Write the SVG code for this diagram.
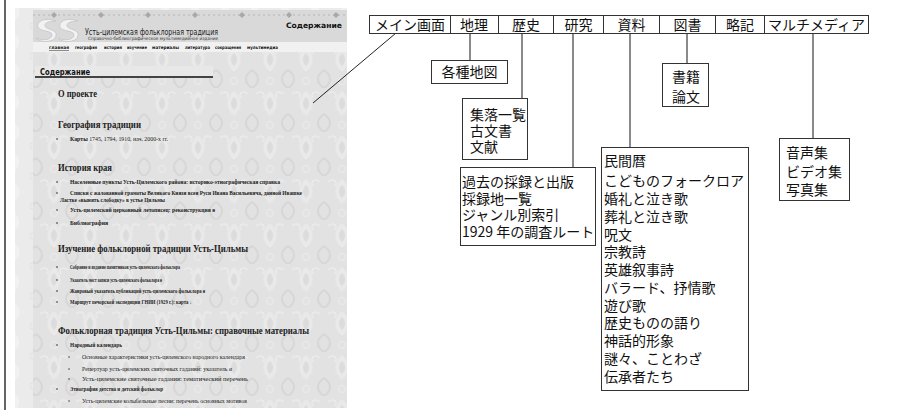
<svg xmlns="http://www.w3.org/2000/svg" width="897" height="419" viewBox="0 0 897 419">
<style>
.jp{font-family:"Noto Sans CJK JP","Noto Sans",sans-serif;font-size:14px;fill:#111}
.box{fill:#fff;stroke:#333;stroke-width:1}
.con{stroke:#8a8a8a;stroke-width:2;fill:none}
.ru{font-family:"Liberation Serif",serif;fill:#1a1a1a}
.h{font-size:10px;font-weight:bold}
.it{font-size:5.5px;font-weight:bold}
.sub{font-size:5.5px;font-weight:normal}
.nv{font-family:"DejaVu Sans",sans-serif;font-size:4.5px;font-weight:bold;fill:#111}
.dot{fill:#222}
</style>
<defs>
<pattern id="damask" width="36" height="44" patternUnits="userSpaceOnUse">
<rect width="36" height="44" fill="#e2e2e2"/>
<path d="M18 3 C27 11 27 20 18 28 C9 20 9 11 18 3Z" fill="#e9e9e9"/>
<path d="M18 9 C22 13 22 18 18 22 C14 18 14 13 18 9Z" fill="#dcdcdc"/>
<path d="M0 26 C8 31 8 39 0 44 M36 26 C28 31 28 39 36 44" stroke="#d7d7d7" fill="none" stroke-width="2"/>
<path d="M4 6 C9 2 14 5 11 10 M32 6 C27 2 22 5 25 10" stroke="#eaeaea" fill="none" stroke-width="2"/>
<circle cx="18" cy="37" r="3.5" fill="none" stroke="#e9e9e9" stroke-width="1.5"/>
</pattern>
<pattern id="damask2" width="30" height="30" patternUnits="userSpaceOnUse">
<rect width="30" height="30" fill="#ebebeb"/>
<path d="M15 3 C21 9 21 15 15 21 C9 15 9 9 15 3Z" fill="#f1f1f1"/>
<circle cx="3" cy="26" r="3" fill="none" stroke="#e2e2e2" stroke-width="1.2"/>
</pattern>
</defs>
<rect width="897" height="419" fill="#fff"/>

<!-- website screenshot -->
<g id="screenshot">
<line x1="5" y1="0" x2="5" y2="410" stroke="#333" stroke-width="1.5"/>
<rect x="15" y="8" width="332" height="400" fill="url(#damask2)"/>
<rect x="33" y="52" width="314" height="356" fill="url(#damask)"/>
<rect x="33" y="10" width="314" height="32" fill="#d9d9d9"/>
<rect x="33" y="42" width="314" height="10" fill="#f1f1f1"/>
<line x1="33" y1="15" x2="347" y2="15" stroke="#b5b5b5" stroke-width="1" stroke-dasharray="2 3"/>
<g fill="#a8a8a8">
<path d="M54 12l3 3-3 3-3-3z"/><path d="M101 12l3 3-3 3-3-3z"/><path d="M148 12l3 3-3 3-3-3z"/><path d="M195 12l3 3-3 3-3-3z"/><path d="M242 12l3 3-3 3-3-3z"/><path d="M289 12l3 3-3 3-3-3z"/><path d="M336 12l3 3-3 3-3-3z"/>
</g>
<g fill="#f2f2f2" stroke="#c4c4c4" stroke-width="0.8">
<path d="M56 21 C46 17 36 21 38 27 C40 32 52 30 52 35 C52 40 42 41 36 38 C40 43 54 43 56 36 C58 29 46 30 45 26 C44 22 52 21 56 21Z"/>
<path d="M78 21 C68 17 58 21 60 27 C62 32 74 30 74 35 C74 40 64 41 58 38 C62 43 76 43 78 36 C80 29 68 30 67 26 C66 22 74 21 78 21Z"/>
</g>
<text x="85" y="35" font-family="DejaVu Sans,sans-serif" font-size="8" fill="#222" textLength="133" lengthAdjust="spacingAndGlyphs">Усть-цилемская фольклорная традиция</text>
<text x="88" y="39.5" font-family="DejaVu Sans,sans-serif" font-size="4.5" fill="#333" textLength="130" lengthAdjust="spacingAndGlyphs">Справочно-библиографическое мультимедийное издание</text>
<text x="286" y="28" font-family="DejaVu Sans,sans-serif" font-size="7.5" font-weight="bold" fill="#111" textLength="56" lengthAdjust="spacingAndGlyphs">Содержание</text>
<text class="nv" x="49" y="49" textLength="20" lengthAdjust="spacingAndGlyphs" text-decoration="underline">главная</text>
<text class="nv" x="75" y="49" textLength="22" lengthAdjust="spacingAndGlyphs">география</text>
<text class="nv" x="104" y="49" textLength="18" lengthAdjust="spacingAndGlyphs">история</text>
<text class="nv" x="127" y="49" textLength="20" lengthAdjust="spacingAndGlyphs">изучение</text>
<text class="nv" x="152" y="49" textLength="27" lengthAdjust="spacingAndGlyphs">материалы</text>
<text class="nv" x="185" y="49" textLength="25" lengthAdjust="spacingAndGlyphs">литература</text>
<text class="nv" x="215" y="49" textLength="26" lengthAdjust="spacingAndGlyphs">сокращения</text>
<text class="nv" x="247" y="49" textLength="31" lengthAdjust="spacingAndGlyphs">мультимедиа</text>

<rect x="35" y="66" width="178" height="10" fill="#e8e8e8"/>
<line x1="35" y1="77" x2="213" y2="77" stroke="#444" stroke-width="2"/>
<text x="40" y="75" font-family="DejaVu Sans,sans-serif" font-size="8" font-weight="bold" fill="#111" textLength="50" lengthAdjust="spacingAndGlyphs">Содержание</text>

<text class="ru h" x="58" y="97" textLength="39" lengthAdjust="spacingAndGlyphs">О проекте</text>
<text class="ru h" x="58" y="128" textLength="83" lengthAdjust="spacingAndGlyphs">География традиции</text>
<circle class="dot" cx="57" cy="139" r="0.8"/>
<text class="ru it" x="70" y="141" textLength="98" lengthAdjust="spacingAndGlyphs">Карты <tspan font-weight="normal">1745, 1794, 1910, нач. 2000-х гг.</tspan></text>

<text class="ru h" x="58" y="171" textLength="54" lengthAdjust="spacingAndGlyphs">История края</text>
<circle class="dot" cx="57" cy="182" r="0.8"/>
<text class="ru it" x="70" y="184" textLength="210" lengthAdjust="spacingAndGlyphs">Населенные пункты Усть-Цилемского района: историко-этнографическая справка</text>
<circle class="dot" cx="57" cy="193" r="0.8"/>
<text class="ru it" x="70" y="195" textLength="232" lengthAdjust="spacingAndGlyphs">Списки с жалованной грамоты Великого Князя всея Руси Ивана Васильевича, данной Ивашке</text>
<text class="ru it" x="60" y="202" textLength="105" lengthAdjust="spacingAndGlyphs">Ластке «вынять слободку» в устье Цильмы</text>
<circle class="dot" cx="57" cy="210" r="0.8"/>
<text class="ru it" x="70" y="212" textLength="145" lengthAdjust="spacingAndGlyphs">Усть-цилемский церковный летописец: реконструкция ø</text>
<circle class="dot" cx="57" cy="223" r="0.8"/>
<text class="ru it" x="70" y="225" textLength="38" lengthAdjust="spacingAndGlyphs">Библиография</text>

<text class="ru h" x="58" y="252" font-size="10.5" textLength="190" lengthAdjust="spacingAndGlyphs">Изучение фольклорной традиции Усть-Цильмы</text>
<circle class="dot" cx="57" cy="267" r="0.8"/>
<text class="ru it" x="70" y="269" textLength="110" lengthAdjust="spacingAndGlyphs">Собрание и издание памятников усть-цилемского фольклора</text>
<circle class="dot" cx="57" cy="280" r="0.8"/>
<text class="ru it" x="70" y="282" textLength="92" lengthAdjust="spacingAndGlyphs">Указатель мест записи усть-цилемского фольклора ø</text>
<circle class="dot" cx="57" cy="291" r="0.8"/>
<text class="ru it" x="70" y="293" textLength="135" lengthAdjust="spacingAndGlyphs">Жанровый указатель публикаций усть-цилемского фольклора ø</text>
<circle class="dot" cx="57" cy="302" r="0.8"/>
<text class="ru it" x="70" y="304" textLength="122" lengthAdjust="spacingAndGlyphs">Маршрут печорской экспедиции ГНИИ (1929 г.): карта ↓</text>

<text class="ru h" x="58" y="334" font-size="10.5" textLength="251" lengthAdjust="spacingAndGlyphs">Фольклорная традиция Усть-Цильмы: справочные материалы</text>
<circle class="dot" cx="57" cy="345" r="0.8"/>
<text class="ru it" x="70" y="347" textLength="52" lengthAdjust="spacingAndGlyphs">Народный календарь</text>
<circle class="dot" cx="69" cy="357" r="0.7"/>
<text class="ru sub" x="82" y="359" textLength="163" lengthAdjust="spacingAndGlyphs">Основные характеристики усть-цилемского народного календаря</text>
<circle class="dot" cx="69" cy="369" r="0.7"/>
<text class="ru sub" x="82" y="371" textLength="150" lengthAdjust="spacingAndGlyphs">Репертуар усть-цилемских святочных гаданий: указатель ø</text>
<circle class="dot" cx="69" cy="379" r="0.7"/>
<text class="ru sub" x="82" y="381" textLength="166" lengthAdjust="spacingAndGlyphs">Усть-цилемские святочные гадания: тематический перечень</text>
<circle class="dot" cx="57" cy="389" r="0.8"/>
<text class="ru it" x="70" y="391" textLength="93" lengthAdjust="spacingAndGlyphs">Этнография детства и детский фольклор</text>
<circle class="dot" cx="69" cy="401" r="0.7"/>
<text class="ru sub" x="82" y="403" textLength="165" lengthAdjust="spacingAndGlyphs">Усть-цилемские колыбельные песни: перечень основных мотивов</text>
</g>

<!-- connectors -->
<g id="connectors">
<line x1="396" y1="33" x2="313" y2="103" stroke="#222" stroke-width="1"/>
<line class="con" x1="470" y1="33" x2="470" y2="60"/>
<line class="con" x1="522" y1="33" x2="522" y2="98"/>
<line class="con" x1="573" y1="33" x2="573" y2="167"/>
<line class="con" x1="630" y1="33" x2="630" y2="147"/>
<line class="con" x1="687" y1="33" x2="687" y2="63"/>
<line class="con" x1="813" y1="33" x2="813" y2="138"/>
</g>

<!-- top menu -->
<g id="menu-main"><rect class="box" x="369.5" y="15.5" width="81" height="18"/><text class="jp" x="410" y="29.5" text-anchor="middle">メイン画面</text></g>
<g id="menu-geography"><rect class="box" x="450.5" y="15.5" width="48" height="18"/><text class="jp" x="474" y="29.5" text-anchor="middle">地理</text></g>
<g id="menu-history"><rect class="box" x="498.5" y="15.5" width="55" height="18"/><text class="jp" x="526" y="29.5" text-anchor="middle">歴史</text></g>
<g id="menu-research"><rect class="box" x="553.5" y="15.5" width="50" height="18"/><text class="jp" x="578.5" y="29.5" text-anchor="middle">研究</text></g>
<g id="menu-materials"><rect class="box" x="603.5" y="15.5" width="56" height="18"/><text class="jp" x="631.5" y="29.5" text-anchor="middle">資料</text></g>
<g id="menu-books"><rect class="box" x="659.5" y="15.5" width="56" height="18"/><text class="jp" x="687.5" y="29.5" text-anchor="middle">図書</text></g>
<g id="menu-abbr"><rect class="box" x="715.5" y="15.5" width="49" height="18"/><text class="jp" x="740" y="29.5" text-anchor="middle">略記</text></g>
<g id="menu-multimedia"><rect class="box" x="764.5" y="15.5" width="104" height="18"/><text class="jp" x="816.5" y="29.5" text-anchor="middle">マルチメディア</text></g>

<!-- sub nodes -->
<g id="node-maps"><rect class="box" x="431.5" y="60.5" width="76" height="23"/><text class="jp" x="469.5" y="77" text-anchor="middle">各種地図</text></g>
<g id="node-history"><rect class="box" x="462.5" y="98.5" width="65" height="61"/>
<text class="jp" x="470" y="120">集落一覧</text><text class="jp" x="470" y="136">古文書</text><text class="jp" x="470" y="152">文献</text></g>
<g id="node-research"><rect class="box" x="460.5" y="167.5" width="135" height="78"/>
<text class="jp" x="462" y="187">過去の採録と出版</text><text class="jp" x="462" y="203.5">採録地一覧</text><text class="jp" x="462" y="220">ジャンル別索引</text><text class="jp" x="462" y="237">1929 年の調査ルート</text></g>
<g id="node-books"><rect class="box" x="662.5" y="63.5" width="46" height="43"/>
<text class="jp" x="686" y="82" text-anchor="middle">書籍</text><text class="jp" x="686" y="102" text-anchor="middle">論文</text></g>
<g id="node-materials"><rect class="box" x="601.5" y="147.5" width="147" height="243"/>
<text class="jp" x="604" y="166">民間暦</text>
<text class="jp" x="604" y="186">こどものフォークロア</text>
<text class="jp" x="604" y="204">婚礼と泣き歌</text>
<text class="jp" x="604" y="222">葬礼と泣き歌</text>
<text class="jp" x="604" y="240">呪文</text>
<text class="jp" x="604" y="257">宗教詩</text>
<text class="jp" x="604" y="275">英雄叙事詩</text>
<text class="jp" x="604" y="292.5">バラード、抒情歌</text>
<text class="jp" x="604" y="310.5">遊び歌</text>
<text class="jp" x="604" y="328">歴史ものの語り</text>
<text class="jp" x="604" y="346">神話的形象</text>
<text class="jp" x="604" y="364">謎々、ことわざ</text>
<text class="jp" x="604" y="382">伝承者たち</text></g>
<g id="node-multimedia"><rect class="box" x="779.5" y="138.5" width="70" height="62"/>
<text class="jp" x="786" y="158">音声集</text><text class="jp" x="786" y="177">ビデオ集</text><text class="jp" x="786" y="195">写真集</text></g>
</svg>
